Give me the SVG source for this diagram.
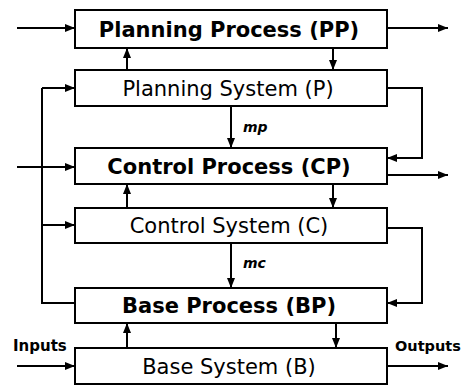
<svg xmlns="http://www.w3.org/2000/svg" width="464" height="385" viewBox="0 0 464 385">
<defs>
<marker id="ah" viewBox="0 0 10 10" refX="10" refY="5" markerWidth="10" markerHeight="10" markerUnits="userSpaceOnUse" orient="auto">
<path d="M0,1 L10,5 L0,9 z" fill="#000"/>
</marker>
<style>
.box{fill:#fff;stroke:#000;stroke-width:2}
.t{font-family:"DejaVu Sans",Verdana,sans-serif;text-anchor:middle;fill:#000}
.b{font-weight:bold;font-size:21px}
.n{font-size:21px}
.c{fill:none;stroke:#000;stroke-width:2}
.a{marker-end:url(#ah)}
.lbl{font-family:"DejaVu Sans",Verdana,sans-serif;font-weight:bold;fill:#000}
</style>
</defs>
<rect width="464" height="385" fill="#fff"/>
<g id="connectors">
<path class="c a" d="M17,28 H75"/>
<path class="c a" d="M387,28 H448"/>
<path class="c a" d="M127,70 V48"/>
<path class="c a" d="M333,48 V70"/>
<path class="c a" d="M231,106 V148"/>
<path class="c a" d="M387,88 H422 V158 H387"/>
<path class="c a" d="M17,167 H75"/>
<path class="c a" d="M387,175 H448"/>
<path class="c a" d="M127,208 V184"/>
<path class="c a" d="M333,184 V208"/>
<path class="c a" d="M231,243 V288"/>
<path class="c a" d="M387,228 H422 V303 H387"/>
<path class="c" d="M75,303 H42 V88"/>
<path class="c a" d="M42,88 H75"/>
<path class="c a" d="M42,225 H75"/>
<path class="c a" d="M127,348 V323"/>
<path class="c a" d="M336,323 V348"/>
<path class="c a" d="M17,366 H75"/>
<path class="c a" d="M387,366 H448"/>
</g>
<g id="pp"><rect class="box" x="75" y="10" width="312" height="38"/><text class="t b" x="229" y="37">Planning Process (PP)</text></g>
<g id="p"><rect class="box" x="75" y="70" width="312" height="36"/><text class="t n" x="228" y="95.5">Planning System (P)</text></g>
<g id="cp"><rect class="box" x="75" y="148" width="312" height="36"/><text class="t b" x="229" y="173.5">Control Process (CP)</text></g>
<g id="c"><rect class="box" x="75" y="208" width="312" height="35"/><text class="t n" x="229" y="233">Control System (C)</text></g>
<g id="bp"><rect class="box" x="75" y="288" width="312" height="35"/><text class="t b" x="229" y="313">Base Process (BP)</text></g>
<g id="b"><rect class="box" x="75" y="348" width="312" height="36"/><text class="t n" x="229" y="373.5">Base System (B)</text></g>
<text class="lbl" x="243" y="132" font-size="14" font-style="italic">mp</text>
<text class="lbl" x="243" y="268" font-size="14" font-style="italic">mc</text>
<text class="lbl" x="13" y="351" font-size="15">Inputs</text>
<text class="lbl" x="395" y="351" font-size="14.5">Outputs</text>
</svg>
